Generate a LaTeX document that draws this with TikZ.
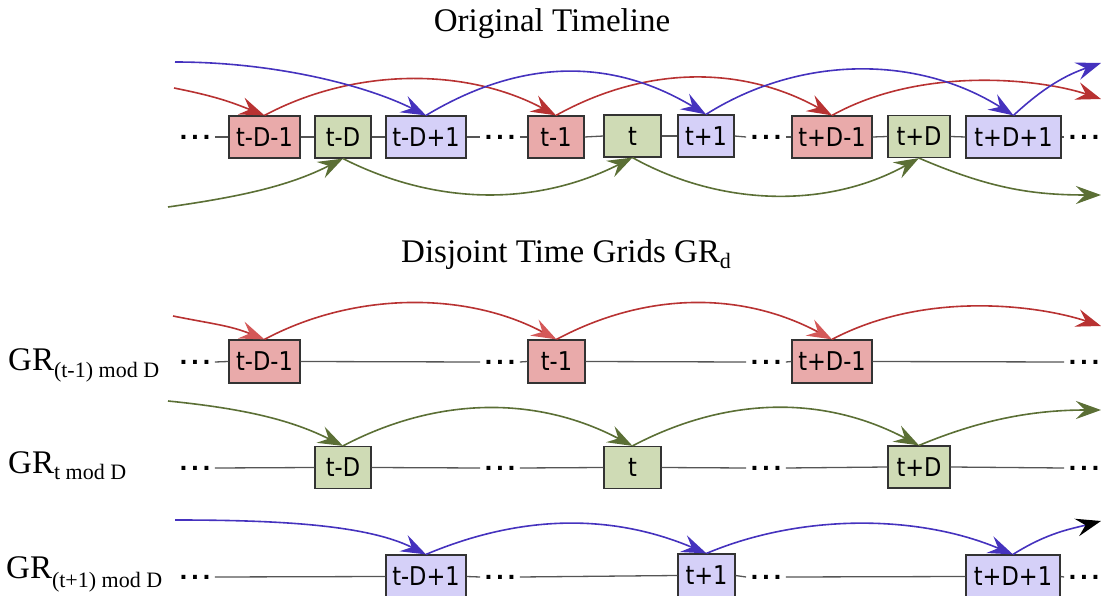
\documentclass[tikz,border=0pt]{standalone}
\usepackage{fontspec}
\setmainfont{Liberation Serif}
\newfontfamily\boxfont{DejaVu Sans}
\usetikzlibrary{arrows.meta}
\definecolor{redfill}{HTML}{E9AAAA}
\definecolor{greenfill}{HTML}{CFDBB5}
\definecolor{bluefill}{HTML}{D5D0F8}
\definecolor{boxline}{HTML}{333333}
\definecolor{gridline}{HTML}{555555}
\definecolor{redline}{HTML}{B83232}
\definecolor{redtip}{HTML}{D45858}
\definecolor{greenline}{HTML}{5B6F35}
\definecolor{blueline}{HTML}{4532BE}
\newcommand{\bx}[1]{\scalebox{1}[1.15]{#1}}
\begin{document}
\begin{tikzpicture}[x=1pt,y=-1pt,
  tbox/.style={draw=boxline, line width=1.2pt, minimum height=42pt, inner sep=0pt,
    font=\boxfont\fontsize{22.5}{27}\selectfont},
  rbox/.style={tbox, fill=redfill},
  gbox/.style={tbox, fill=greenfill},
  bbox/.style={tbox, fill=bluefill},
  dotsnode/.style={inner xsep=4pt, inner ysep=0pt, font=\boxfont\bfseries\fontsize{22}{26}\selectfont},
  gridseg/.style={draw=gridline, line width=1.3pt},
  arr/.style={line width=1.6pt, -{Stealth[length=25pt,width=18pt,inset=9pt]}},
  redarr/.style={arr, draw=redline},
  redarrl/.style={redarr, -{Stealth[length=25pt,width=18pt,inset=9pt,redtip]}},
  greenarr/.style={arr, draw=greenline},
  bluearr/.style={arr, draw=blueline},
  lbl/.style={anchor=base west, font=\fontsize{33}{40}\selectfont, inner sep=0pt},
  ttl/.style={font=\fontsize{33}{40}\selectfont, inner sep=0pt},
]
\useasboundingbox (0,0) rectangle (1101,596);
\newcommand{\dotstext}{.\hspace{3.2pt}.\hspace{3.2pt}.}
\newcommand{\subtext}[2]{\raisebox{-#1pt}{\fontsize{22}{26}\selectfont #2}}

% titles
\node[ttl, anchor=base] (title1) at (552,32) {Original Timeline};
\node[ttl, anchor=base west] (title2) at (401,262) {Disjoint Time Grids GR\subtext{6}{d}};

% row labels
\node[lbl] (lab2) at (8,370) {GR\subtext{7}{(t-1) mod D}};
\node[lbl] (lab3) at (8,473) {GR\subtext{6}{t mod D}};
\node[lbl] (lab4) at (6,578) {GR\subtext{9}{(t+1) mod D}};

% ---------- row 1 : original timeline ----------
\node[dotsnode] (r1d1) at (195,137) {\dotstext};
\node[dotsnode] (r1d2) at (500,137) {\dotstext};
\node[dotsnode] (r1d3) at (766,137) {\dotstext};
\node[dotsnode] (r1d4) at (1084,137) {\dotstext};
\node[rbox, minimum width=71pt] (a1) at (264.5,137) {\bx{t-D-1}};
\node[gbox, minimum width=56pt] (a2) at (343,137) {\bx{t-D}};
\node[bbox, minimum width=80pt] (a3) at (426,137) {\bx{t-D+1}};
\node[rbox, minimum width=56pt] (a4) at (556,137) {\bx{t-1}};
\node[gbox, minimum width=57pt] (a5) at (632.5,136) {\bx{t}};
\node[bbox, minimum width=56pt] (a6) at (706,136) {\bx{t+1}};
\node[rbox, minimum width=80pt] (a7) at (832,137) {\bx{t+D-1}};
\node[gbox, minimum width=62pt] (a8) at (919,136.5) {\bx{t+D}};
\node[bbox, minimum width=95pt] (a9) at (1013.5,137) {\bx{t+D+1}};
\draw[gridseg] (r1d1.east) -- (a1.west);
\draw[gridseg] (a1.east) -- (a2.west);
\draw[gridseg] (a2.east) -- (a3.west);
\draw[gridseg] (a3.east) -- (r1d2.west);
\draw[gridseg] (r1d2.east) -- (a4.west);
\draw[gridseg] (a4.east) -- (a5.west);
\draw[gridseg] (a5.east) -- (a6.west);
\draw[gridseg] (a6.east) -- (r1d3.west);
\draw[gridseg] (r1d3.east) -- (a7.west);
\draw[gridseg] (a7.east) -- (a8.west);
\draw[gridseg] (a8.east) -- (a9.west);
\draw[gridseg] (a9.east) -- (r1d4.west);

\coordinate (rs1) at (174,88);
\coordinate (re1) at (1101,99);
\draw[redarr] (rs1) .. controls +(40,8) and +(-35,-14) .. (a1.north);
\draw[redarr] (a1.north) .. controls +(90,-48) and +(-90,-48) .. (a4.north);
\draw[redarr] (a4.north) .. controls +(90,-50) and +(-90,-50) .. (a7.north);
\draw[redarr] (a7.north) .. controls +(90,-50) and +(-60,-20) .. (re1);

\coordinate (bs1) at (175,62);
\coordinate (be1) at (1101,63);
\draw[bluearr] (bs1) .. controls +(100,0) and +(-60,-30) .. (a3.north);
\draw[bluearr] (a3.north) .. controls +(95,-57) and +(-95,-57) .. (a6.north);
\draw[bluearr] (a6.north) .. controls +(95,-60) and +(-95,-60) .. (a9.north);
\draw[bluearr] (a9.north) .. controls +(30,-28) and +(-35,12) .. (be1);

\coordinate (gs1) at (168,207);
\coordinate (ge1) at (1101,195);
\draw[greenarr] (gs1) .. controls +(70,-10) and +(-55,28) .. (a2.south);
\draw[greenarr] (a2.south) .. controls +(95,48) and +(-95,48) .. (a5.south);
\draw[greenarr] (a5.south) .. controls +(90,50) and +(-90,50) .. (a8.south);
\draw[greenarr] (a8.south) .. controls +(70,30) and +(-70,0) .. (ge1);

% ---------- row 2 : GR (t-1) mod D ----------
\node[dotsnode] (r2d1) at (195,362) {\dotstext};
\node[dotsnode] (r2d2) at (500,362) {\dotstext};
\node[dotsnode] (r2d3) at (766,362) {\dotstext};
\node[dotsnode] (r2d4) at (1084,362) {\dotstext};
\node[rbox, minimum width=71pt, minimum height=43pt] (b1) at (264.5,361.5) {\bx{t-D-1}};
\node[rbox, minimum width=57pt, minimum height=43pt] (b2) at (556.5,361.5) {\bx{t-1}};
\node[rbox, minimum width=80pt, minimum height=43pt] (b3) at (832,361.5) {\bx{t+D-1}};
\draw[gridseg] (r2d1.east) -- (b1.west);
\draw[gridseg] (b1.east) -- (r2d2.west);
\draw[gridseg] (r2d2.east) -- (b2.west);
\draw[gridseg] (b2.east) -- (r2d3.west);
\draw[gridseg] (r2d3.east) -- (b3.west);
\draw[gridseg] (b3.east) -- (r2d4.west);

\coordinate (rs2) at (173,316);
\coordinate (re2) at (1101,326);
\draw[redarrl] (rs2) .. controls +(40,8) and +(-35,-14) .. (b1.north);
\draw[redarrl] (b1.north) .. controls +(90,-48) and +(-90,-48) .. (b2.north);
\draw[redarrl] (b2.north) .. controls +(90,-48) and +(-90,-48) .. (b3.north);
\draw[redarr] (b3.north) .. controls +(95,-50) and +(-60,-20) .. (re2);

% ---------- row 3 : GR t mod D ----------
\node[dotsnode] (r3d1) at (195,468) {\dotstext};
\node[dotsnode] (r3d2) at (500,468) {\dotstext};
\node[dotsnode] (r3d3) at (766,468) {\dotstext};
\node[dotsnode] (r3d4) at (1084,468) {\dotstext};
\node[gbox, minimum width=56pt] (c1) at (343,467.5) {\bx{t-D}};
\node[gbox, minimum width=57pt] (c2) at (632.5,467.5) {\bx{t}};
\node[gbox, minimum width=62pt] (c3) at (919,467) {\bx{t+D}};
\draw[gridseg] (r3d1.east) -- (c1.west);
\draw[gridseg] (c1.east) -- (r3d2.west);
\draw[gridseg] (r3d2.east) -- (c2.west);
\draw[gridseg] (c2.east) -- (r3d3.west);
\draw[gridseg] (r3d3.east) -- (c3.west);
\draw[gridseg] (c3.east) -- (r3d4.west);

\coordinate (gs3) at (168,401);
\coordinate (ge3) at (1101,410);
\draw[greenarr] (gs3) .. controls +(80,8) and +(-50,-25) .. (c1.north);
\draw[greenarr] (c1.north) .. controls +(95,-50) and +(-95,-50) .. (c2.north);
\draw[greenarr] (c2.north) .. controls +(95,-50) and +(-95,-50) .. (c3.north);
\draw[greenarr] (c3.north) .. controls +(60,-25) and +(-70,0) .. (ge3);

% ---------- row 4 : GR (t+1) mod D ----------
\node[dotsnode] (r4d1) at (195,577) {\dotstext};
\node[dotsnode] (r4d2) at (500,577) {\dotstext};
\node[dotsnode] (r4d3) at (766,577) {\dotstext};
\node[dotsnode] (r4d4) at (1084,577) {\dotstext};
\node[bbox, minimum width=80pt, minimum height=43pt] (d1) at (426,576.5) {\bx{t-D+1}};
\node[bbox, minimum width=57pt, minimum height=43pt] (d2) at (706.5,575.5) {\bx{t+1}};
\node[bbox, minimum width=94pt, minimum height=43pt] (d3) at (1013,576.5) {\bx{t+D+1}};
\draw[gridseg] (r4d1.east) -- (d1.west);
\draw[gridseg] (d1.east) -- (r4d2.west);
\draw[gridseg] (r4d2.east) -- (d2.west);
\draw[gridseg] (d2.east) -- (r4d3.west);
\draw[gridseg] (r4d3.east) -- (d3.west);
\draw[gridseg] (d3.east) -- (r4d4.west);

\coordinate (bs4) at (175,520);
\coordinate (be4) at (1101,521);
\draw[bluearr] (bs4) .. controls +(100,0) and +(-60,-30) .. (d1.north);
\draw[bluearr] (d1.north) .. controls +(95,-40) and +(-95,-40) .. (d2.north);
\draw[bluearr] (d2.north) .. controls +(95,-40) and +(-95,-40) .. (d3.north);
\draw[bluearr, -{Stealth[length=25pt,width=18pt,inset=9pt,black]}] (d3.north) .. controls +(35,-22) and +(-30,8) .. (be4);
\end{tikzpicture}
\end{document}
